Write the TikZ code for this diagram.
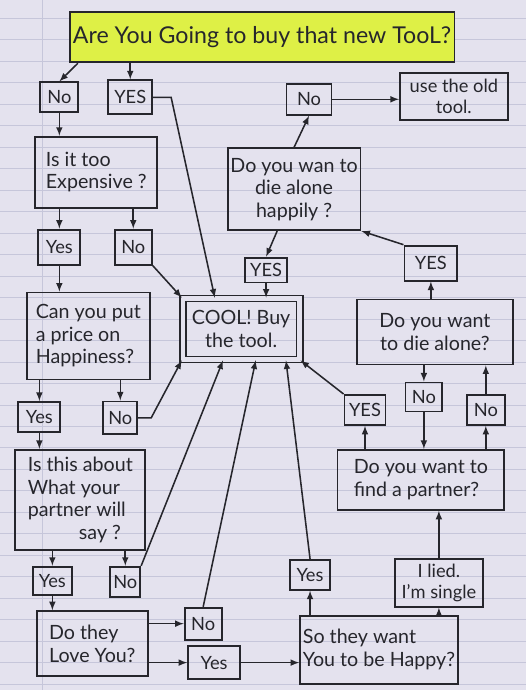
\documentclass[tikz,border=0pt]{standalone}
\usepackage{fontspec}
\setmainfont{Lato}
\usetikzlibrary{arrows, positioning}

\definecolor{paper}{RGB}{228,226,238}
\definecolor{rule}{RGB}{198,198,218}
\definecolor{ink}{RGB}{38,38,44}
\definecolor{hilite}{RGB}{222,240,70}

\begin{document}
\begin{tikzpicture}[
    x=0.025cm, y=-0.025cm,
    font=\fontsize{14}{16}\selectfont,
    box/.style={rectangle, draw=ink, line width=1.3pt, inner sep=2pt, text=ink},
    ans/.style={box, font=\fontsize{13}{15}\selectfont},
    arrow/.style={draw=ink, line width=1.1pt, ->, >=latex}
]

% Lined paper
\fill[paper] (0,0) rectangle (526,690);
\foreach \k in {0,...,31}
    \draw[rule, line width=0.6pt] (0,18+21.5*\k) -- (526,18+21.5*\k);
\draw[rule, line width=0.6pt] (42,0) -- (42,690);
\useasboundingbox (0,0) rectangle (526,690);

% Top question
\node[box, fill=hilite, minimum width=9.625cm, minimum height=1.25cm, font=\fontsize{16.5}{19}\selectfont] (title) at (262,37) {Are You Going to buy that new TooL?};
\node[ans, minimum width=0.95cm, minimum height=0.75cm] (buyNo) at (59,97) {No};
\node[ans, minimum width=1.1cm, minimum height=0.85cm] (buyYes) at (130,97) {YES};

% Left column
\node[box, minimum width=3.05cm, minimum height=1.775cm, align=left] (expQ) at (96,172) {Is it too\\Expensive ?};
\node[ans, minimum width=1.05cm, minimum height=0.875cm] (expYes) at (59,247) {Yes};
\node[ans, minimum width=0.925cm, minimum height=0.875cm] (expNo) at (133,247) {No};

\node[box, minimum width=3.075cm, minimum height=2.175cm, align=left] (priceQ) at (88,336) {Can you put\\a price on\\Happiness?};
\node[ans, minimum width=1.05cm, minimum height=0.75cm] (priceYes) at (39,417) {Yes};
\node[ans, minimum width=0.85cm, minimum height=0.825cm] (priceNo) at (120,418) {No};

\node[box, minimum width=3.25cm, minimum height=2.5cm, align=left] (partnerQ) at (80,500) {Is this about\\What your\\partner will\\\hspace*{2.6em}say ?};
\node[ans, minimum width=0.975cm, minimum height=0.7cm] (partnerYes) at (52,581) {Yes};
\node[ans, minimum width=0.75cm, minimum height=0.75cm] (partnerNo) at (125,582) {No};

\node[box, minimum width=2.775cm, minimum height=1.625cm, align=left] (loveQ) at (92,644) {Do they\\Love You?};
\node[ans, minimum width=0.925cm, minimum height=0.8cm] (loveNo) at (203,624) {No};
\node[ans, minimum width=1.3cm, minimum height=0.825cm] (loveYes) at (214,663) {Yes};

% Middle
\node[box, double=paper, double distance=3pt, minimum width=2.925cm, minimum height=1.525cm, align=center] (cool) at (241,329) {COOL! Buy\\the tool.};

\node[box, minimum width=3.075cm, minimum height=2.05cm, align=center] (happilyQ) at (294,189) {Do you wan to\\die alone\\happily ?};
\node[ans, minimum width=1.125cm, minimum height=0.775cm] (happilyNo) at (309,99) {No};
\node[ans, minimum width=2.7cm, minimum height=1.175cm, align=center] (oldTool) at (454,96) {use the old\\tool.};
\node[ans, minimum width=1.05cm, minimum height=0.625cm] (happilyYes) at (266,270) {YES};

% Right column
\node[box, minimum width=3.9cm, minimum height=1.625cm, align=center] (aloneQ) at (435,332) {Do you want\\to die alone?};
\node[ans, minimum width=1.325cm, minimum height=0.875cm] (aloneYes) at (431,263) {YES};
\node[ans, minimum width=0.925cm, minimum height=0.725cm] (aloneNo) at (424,397) {No};

\node[box, minimum width=4.175cm, minimum height=1.5cm, align=left] (findQ) at (421,480) {Do you want to\\find a partner?};
\node[ans, minimum width=1.025cm, minimum height=0.75cm] (findYes) at (365,410) {YES};
\node[ans, minimum width=0.95cm, minimum height=0.75cm] (findNo) at (486,410) {No};

\node[box, minimum width=3.8cm, minimum height=1.7cm, align=left] (happyQ) at (379,650) {So they want\\You to be Happy?};
\node[ans, minimum width=1.0cm, minimum height=0.75cm] (happyYes) at (310,575) {Yes};
\node[ans, minimum width=2.2cm, minimum height=1.2cm, align=center] (lied) at (439,583) {I lied.\\I'm single};

% Top connections
\draw[arrow] (title.188) -- (buyNo.north);
\draw[arrow] (buyYes.north |- title.south) -- (buyYes.north);
\draw[arrow] (buyYes.east) -- ++(18,0) -- (cool.130);
\draw[arrow] (buyNo.south) -- (buyNo.south |- expQ.north);

% Left column connections
\draw[arrow] (expYes.north |- expQ.south) -- (expYes.north);
\draw[arrow] (expNo.north |- expQ.south) -- (expNo.north);
\draw[arrow] (expNo.south east) -- (cool.north west);
\draw[arrow] (expYes.south) -- (expYes.south |- priceQ.north);

\draw[arrow] (priceYes.north |- priceQ.south) -- (priceYes.north);
\draw[arrow] (priceNo.north |- priceQ.south) -- (priceNo.north);
\draw[arrow] (priceNo.east) -- ++(13,0) -- (cool.south west);
\draw[arrow] (priceYes.south) -- (priceYes.south |- partnerQ.north);

\draw[arrow] (partnerYes.north |- partnerQ.south) -- (partnerYes.north);
\draw[arrow] (partnerNo.north |- partnerQ.south) -- (partnerNo.north);
\draw[arrow] (partnerNo.north east) -- (cool.240);
\draw[arrow] (partnerYes.south) -- (partnerYes.south |- loveQ.north);

\draw[arrow] (loveQ.east |- loveNo.west) -- (loveNo.west);
\draw[arrow] (loveQ.east |- loveYes.west) -- (loveYes.west);
\draw[arrow] (loveNo.north) -- (cool.295);
\draw[arrow] (loveYes.east) -- (loveYes.east -| happyQ.west);

% Middle connections
\draw[arrow] (happilyQ.north) -- (happilyNo.south);
\draw[arrow] (happilyNo.east) -- (happilyNo.east -| oldTool.west);
\draw[arrow] (happilyQ.248) -- (happilyYes.north);
\draw[arrow] (happilyYes.south) -- (happilyYes.south |- cool.north);

% Right column connections
\draw[arrow] (aloneYes.south |- aloneQ.north) -- (aloneYes.south);
\draw[arrow] (aloneYes.north west) -- (happilyQ.south east);
\draw[arrow] (aloneNo.north |- aloneQ.south) -- (aloneNo.north);
\draw[arrow] (aloneNo.south) -- (aloneNo.south |- findQ.north);
\draw[arrow] (findYes.south |- findQ.north) -- (findYes.south);
\draw[arrow] (findYes.north west) -- (cool.south east);
\draw[arrow] (findNo.south |- findQ.north) -- (findNo.south);
\draw[arrow] (findNo.north) -- (findNo.north |- aloneQ.south);

% Bottom right connections
\draw[arrow] (happyYes.south |- happyQ.north) -- (happyYes.south);
\draw[arrow] (happyYes.north) -- (cool.325);
\draw[arrow] (lied.south |- happyQ.north) -- (lied.south);
\draw[arrow] (lied.north) -- (lied.north |- findQ.south);

\end{tikzpicture}
\end{document}
